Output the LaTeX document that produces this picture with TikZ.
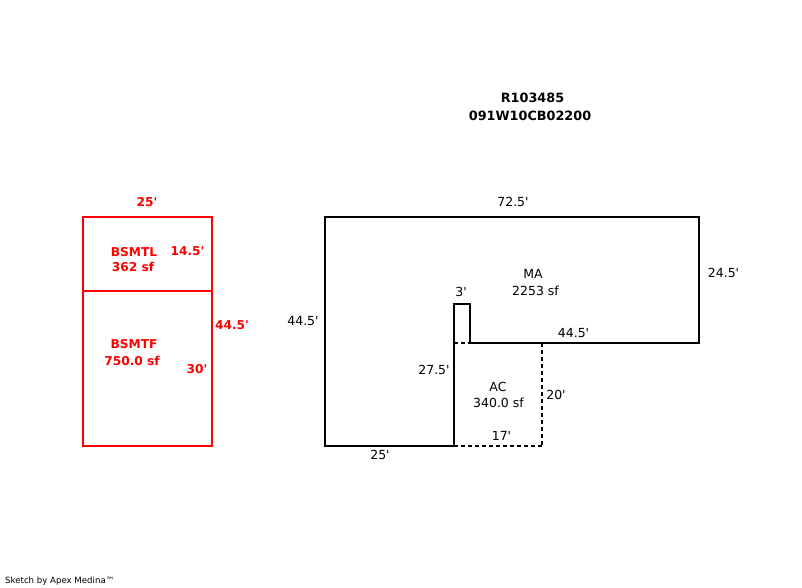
\documentclass[tikz,border=0pt]{standalone}
\usepackage{fontspec}
\setmainfont{DejaVu Sans}[Ligatures=TeXOff]
\tikzset{
  plain/.style={font=\fontsize{12.5}{14}\selectfont, text=black, inner sep=0pt},
  redlab/.style={font=\fontsize{12.2}{14}\selectfont\bfseries, text=red, inner sep=0pt},
  toplab/.style={font=\fontsize{12.8}{14}\selectfont\bfseries, text=black, inner sep=0pt},
  wall/.style={draw=black, line width=2pt},
  redwall/.style={draw=red, line width=2pt},
  dashwall/.style={draw=black, line width=2pt, dash pattern=on 4pt off 3pt}
}
\begin{document}
\begin{tikzpicture}[x=1pt,y=-1pt]
\useasboundingbox (0,0) rectangle (802,588);
\node [toplab] (parcel) at (532.5,98) {R103485};
\node [toplab] (parcelid) at (530,116) {091W10CB02200};
% basement
\draw [redwall] (83,217) rectangle (212,446);
\draw [redwall] (83,291) -- (212,291);
\node [redlab] (topwidth) at (147,202) {25'};
\node [redlab] (bsmtl) at (134,252) {BSMTL};
\node [redlab] (bsmtlsf) at (133,267) {362 sf};
\node [redlab] (bsmtld) at (187.5,251) {14.5'};
\node [redlab] (bsmtf) at (134,344) {BSMTF};
\node [redlab] (bsmtfsf) at (132,361) {750.0 sf};
\node [redlab] (bsmtfd) at (197,369) {30'};
\node [redlab] (rside) at (232,325) {44.5'};
% main area
\draw [wall] (325,217) -- (699,217) -- (699,343) -- (470,343) -- (470,304) -- (454,304) -- (454,446) -- (325,446) -- cycle;
\draw [dashwall] (454,343) -- (470,343);
\draw [dashwall] (542,343) -- (542,446);
\draw [dashwall] (454,446) -- (542,446);
\node [plain] (matop) at (513,202) {72.5'};
\node [plain] (maright) at (723.5,273) {24.5'};
\node [plain] (maleft) at (303,321) {44.5'};
\node [plain] (ma) at (533,274) {MA};
\node [plain] (masf) at (535.5,291) {2253 sf};
\node [plain] (bump) at (461,292) {3'};
\node [plain] (mastep) at (573.5,333) {44.5'};
\node [plain] (mabot) at (380,455) {25'};
\node [plain] (mainner) at (434,370) {27.5'};
\node [plain] (ac) at (498,387) {AC};
\node [plain] (acsf) at (498.5,403) {340.0 sf};
\node [plain] (acright) at (556,395) {20'};
\node [plain] (acbot) at (501.5,436) {17'};
\node [anchor=west, font=\fontsize{8.6}{10}\selectfont, inner sep=0pt] (credit) at (5,581) {Sketch by Apex Medina™};
\end{tikzpicture}
\end{document}
